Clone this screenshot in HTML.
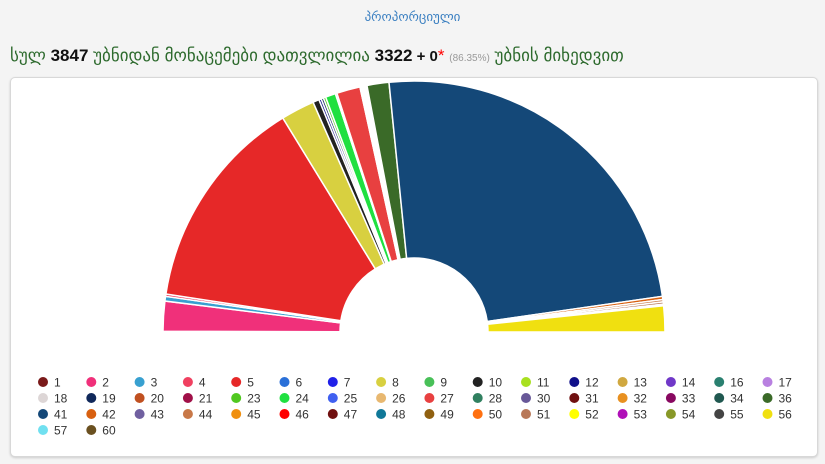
<!DOCTYPE html>
<html><head><meta charset="utf-8">
<style>
body{margin:0;width:825px;height:464px;background:#f4f4f4;font-family:"Liberation Sans","DejaVu Sans",sans-serif;overflow:hidden;position:relative}
#t{position:absolute;top:9px;left:0;width:825px;text-align:center;color:#3a7fc1;font-size:13px}
#h{position:absolute;top:46px;left:10px;font-size:17px;color:#2d6a2d;white-space:nowrap}
#h b{color:#111}
#h small{color:#999;font-size:10px}
#card{position:absolute;left:10px;top:77px;width:806px;height:378px;background:#fff;border:1px solid #d8d8d8;border-radius:5px;box-shadow:0 1px 2px #ccc}
svg{position:absolute;left:0;top:0}
</style></head><body>
<div id="t">პროპორციული</div>
<div id="h">სულ <b>3847</b> უბნიდან მონაცემები დათვლილია <b>3322</b><b style="font-size:15px"> + 0</b><span style="color:red">*</span> <small>(86.35%)</small> უბნის მიხედვით</div>
<div id="card"></div>
<svg id="s" width="825" height="464"></svg>
<script>
const sliceParties=["1","2","3","4","5","8","10","12","19","23","24","25","27","18","36","41","42","44","51","55","56"];
const sliceValues=[0.1,3.8,0.6,0.3,27.4,4.3,0.8,0.3,0.3,0.3,1.3,0.2,3.0,0.9,2.8,48.2,0.4,0.3,0.3,0.2,3.3];
const legendParties=["1","2","3","4","5","6","7","8","9","10","11","12","13","14","16","17","18","19","20","21","23","24","25","26","27","28","30","31","32","33","34","36","41","42","43","44","45","46","47","48","49","50","51","52","53","54","55","56","57","60"];
const legendColors=["#7a1a1a","#f0307a","#38a0d0","#f04060","#e62828","#2a70d8","#2020e8","#d8d040","#48c058","#222222","#a8e020","#10108a","#d0a840","#7038c8","#2a8070","#b880e0","#ddd6d6","#10285a","#c05020","#a01048","#50c820","#20e040","#4060f0","#e8b870","#e84040","#308060","#685898","#701010","#e89020","#880860","#205850","#3a6a28","#144878","#d86010","#7060a0","#c87848","#f09010","#ff0000","#701010","#107898","#906010","#ff7010","#b87858","#ffff00","#b010b8","#889828","#444444","#f0e010","#70e0f0","#6a5020"];
const col={};legendParties.forEach((p,i)=>col[p]=legendColors[i]);
col["18"]="#ffffff";
const s=document.getElementById('s');const NS="http://www.w3.org/2000/svg";
const cx=414,cy=332,R=251,r=74;
const total=sliceValues.reduce((a,b)=>a+b,0);
function pt(a,rad){return [cx-rad*Math.cos(a),cy-rad*Math.sin(a)];}
let acc=0;
sliceValues.forEach((v,i)=>{
 const a0=acc/total*Math.PI;acc+=v;const a1=acc/total*Math.PI;
 const [x0,y0]=pt(a0,R),[x1,y1]=pt(a1,R),[x2,y2]=pt(a1,r),[x3,y3]=pt(a0,r);
 const p=document.createElementNS(NS,'path');
 p.setAttribute('d',`M${x0},${y0}A${R},${R} 0 0 1 ${x1},${y1}L${x2},${y2}A${r},${r} 0 0 0 ${x3},${y3}Z`);
 p.setAttribute('fill',col[sliceParties[i]]);p.setAttribute('stroke','#fff');p.setAttribute('stroke-width','1.5');
 
 
 s.appendChild(p);
});
legendParties.forEach((p,i)=>{
 const c=i%16,rw=Math.floor(i/16);const x=43+c*48.3,y=382+rw*16;
 const g=document.createElementNS(NS,'g');
 
 
 const d=document.createElementNS(NS,'circle');d.setAttribute('cx',x);d.setAttribute('cy',y);d.setAttribute('r',5);d.setAttribute('fill',legendColors[i]);
 const t=document.createElementNS(NS,'text');t.setAttribute('x',x+11);t.setAttribute('y',y+4.5);t.setAttribute('font-size','12');t.setAttribute('fill','#333');t.setAttribute('font-family','Liberation Sans, sans-serif');t.textContent=p;
 g.appendChild(d);g.appendChild(t);s.appendChild(g);
});
</script>
</body></html>
